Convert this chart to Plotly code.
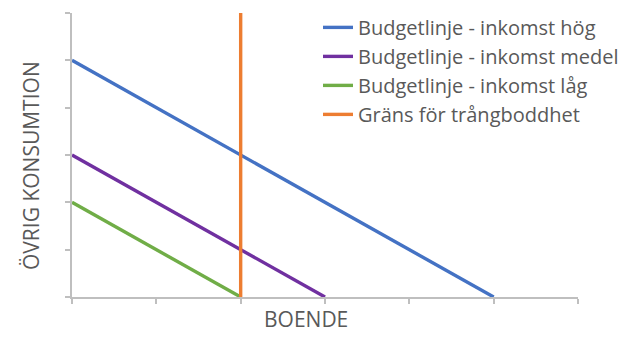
import plotly.graph_objects as go

# Budget lines: housing (x) vs other consumption (y)
series_names = [
    "Budgetlinje - inkomst hög",
    "Budgetlinje - inkomst medel",
    "Budgetlinje - inkomst låg",
]
budget_x = [[0, 5], [0, 3], [0, 2]]
budget_y = [[5, 0], [3, 0], [2, 0]]
series_colors = ["#4472C4", "#7030A0", "#70AD47"]

# Crowding limit: vertical line at a fixed housing level
limit_name = "Gräns för trångboddhet"
limit_x = [2, 2]
limit_y = [0, 6]
limit_color = "#ED7D31"

x_title = "BOENDE"
y_title = "ÖVRIG KONSUMTION"

FONT = "Open Sans"
TEXT = "#595959"
AXIS = "#BFBFBF"

fig = go.Figure()
for name, xs, ys, col in zip(series_names, budget_x, budget_y, series_colors):
    fig.add_trace(go.Scatter(x=xs, y=ys, mode="lines", name=name,
                             line=dict(color=col, width=3.4)))
fig.add_trace(go.Scatter(x=limit_x, y=limit_y, mode="lines", name=limit_name,
                         line=dict(color=limit_color, width=3.4)))

axis_common = dict(range=[0, 6], dtick=1, tick0=0, showgrid=False, zeroline=False,
                   showline=True, linecolor=AXIS, linewidth=1.5,
                   ticks="outside", ticklen=5, tickcolor=AXIS, tickwidth=1.5,
                   showticklabels=False, fixedrange=True)
fig.update_xaxes(**axis_common)
fig.update_yaxes(**axis_common)

fig.add_annotation(text=x_title, xref="paper", yref="paper", x=(305.5 - 72) / 506,
                   y=0, yshift=-38, showarrow=False,
                   font=dict(family=FONT, size=21, color=TEXT))
fig.add_annotation(text=y_title, xref="paper", yref="paper", x=0, xshift=-57,
                   y=(297 - 166) / 284, showarrow=False, textangle=-90,
                   font=dict(family=FONT, size=21, color=TEXT))

fig.update_layout(
    width=630, height=345,
    margin=dict(l=72, r=52, t=13, b=48, autoexpand=False),
    paper_bgcolor="white", plot_bgcolor="white",
    font=dict(family=FONT, size=20, color=TEXT),
    showlegend=True,
    legend=dict(x=(318 - 72) / 506, xanchor="left", y=1.018, yanchor="top",
                bgcolor="rgba(0,0,0,0)", font=dict(family=FONT, size=20, color=TEXT),
                tracegroupgap=0, itemwidth=30),
)

fig.write_html("out.html")
